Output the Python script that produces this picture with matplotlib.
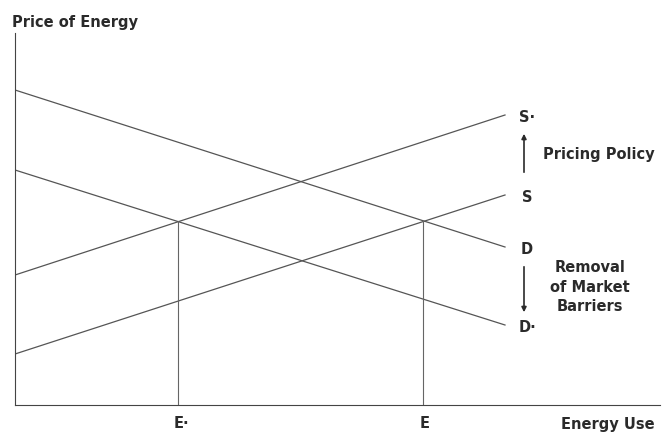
import matplotlib.pyplot as plt

plt.rcParams['font.family'] = ['DejaVu Sans']

# curve endpoints (x at left, x at right / price at left, price at right)
curve_x = [0, 490]
d_price = [315, 158]
d_star_price = [235, 80]
s_price = [51, 210]
s_star_price = [130, 290]
curve_labels = ['D', 'D·', 'S', 'S·']

# equilibrium quantities and price
e_star_x = 163
e_x = 408
eq_price = 184

fig = plt.figure(figsize=(6.63, 4.34), dpi=100)
ax = fig.add_axes([15 / 663, 29 / 434, 645 / 663, 372 / 434])
ax.set_xlim(0, 645)
ax.set_ylim(0, 372)

line_kw = dict(color='#555555', lw=0.9)
for ys in [d_price, d_star_price, s_price, s_star_price]:
    ax.plot(curve_x, ys, **line_kw)

ax.plot([e_star_x, e_star_x], [0, eq_price], color='#666666', lw=0.8)
ax.plot([e_x, e_x], [0, eq_price], color='#666666', lw=0.8)

# curve labels
fs = 10.5
tc = '#2a2a2a'
fw = 'bold'
lab_x = 512
for ys, lab in zip([d_price, d_star_price, s_price, s_star_price], curve_labels):
    ax.text(lab_x, ys[1] - 2, lab, fontsize=fs, ha='center', va='center', color=tc, fontweight=fw)

# arrows
ax.annotate('', xy=(509, 274), xytext=(509, 230),
            arrowprops=dict(arrowstyle='-|>', color=tc, lw=1.2, mutation_scale=7))
ax.annotate('', xy=(509, 90), xytext=(509, 141),
            arrowprops=dict(arrowstyle='-|>', color=tc, lw=1.2, mutation_scale=7))

ax.text(528, 250, 'Pricing Policy', fontsize=fs, ha='left', va='center', color=tc, fontweight=fw)
ax.text(575, 118, 'Removal\nof Market\nBarriers', fontsize=fs, ha='center', va='center',
        color=tc, linespacing=1.35, fontweight=fw)

# axes
for side in ['top', 'right']:
    ax.spines[side].set_visible(False)
ax.spines['left'].set_color('#444444')
ax.spines['bottom'].set_color('#444444')
ax.set_xticks([])
ax.set_yticks([])

ax.text(e_star_x + 3, -19, 'E·', fontsize=fs, ha='center', va='center', color=tc, fontweight=fw)
ax.text(e_x + 2, -19, 'E', fontsize=fs, ha='center', va='center', color=tc, fontweight=fw)
fig.text(655 / 663, 1 - 424 / 434, 'Energy Use', fontsize=fs, ha='right', va='center', color=tc, fontweight=fw)
fig.text(12 / 663, 1 - 22 / 434, 'Price of Energy', fontsize=fs, ha='left', va='center', color=tc, fontweight=fw)

fig.savefig('out.png', dpi=100)
